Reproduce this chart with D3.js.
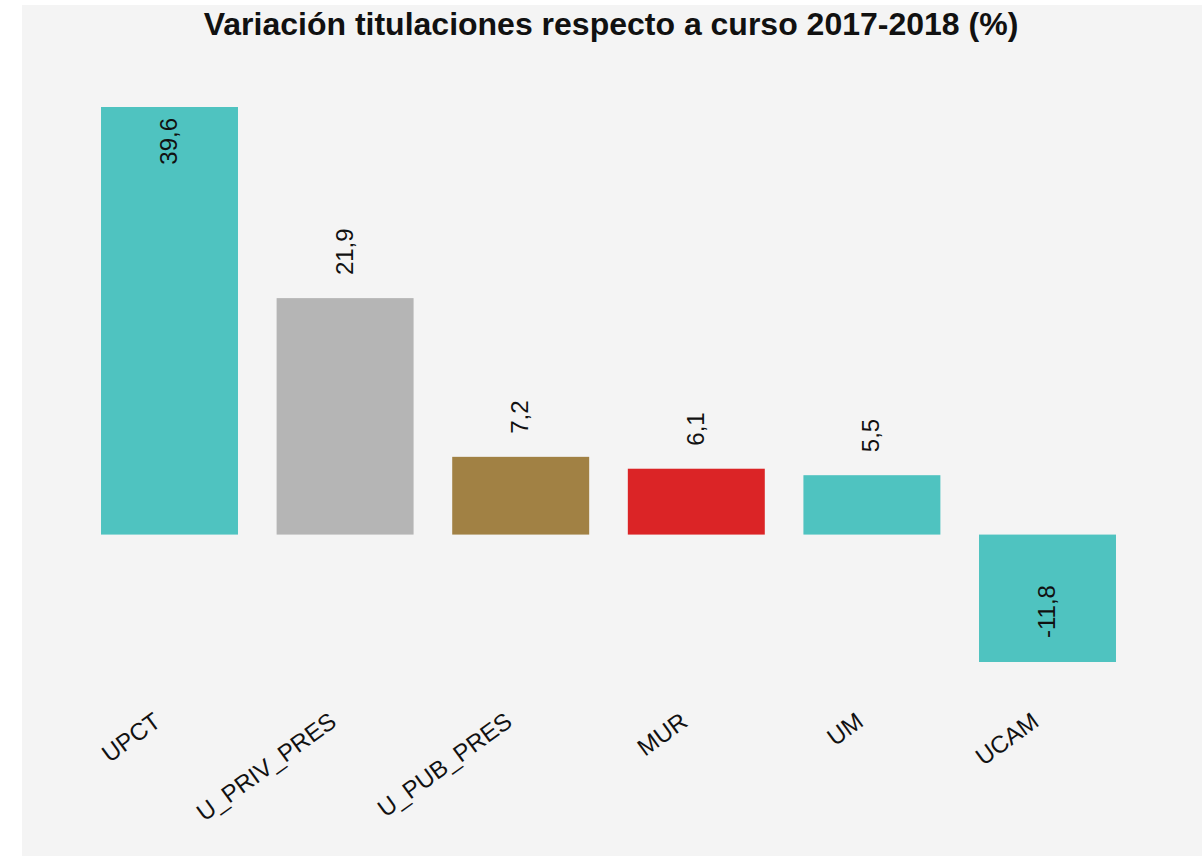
<!DOCTYPE html>
<html>
<head>
<meta charset="utf-8">
<script src="https://cdn.jsdelivr.net/npm/d3@7"></script>
<style>
  body { margin: 0; background: #fff; }
  text { font-family: "Liberation Sans", Arial, sans-serif; }
</style>
</head>
<body>
<div id="chart"></div>
<script>
const width = 1202, height = 856;

// datos
const categories = ["UPCT", "U_PRIV_PRES", "U_PUB_PRES", "MUR", "UM", "UCAM"];
const values = [39.6, 21.9, 7.2, 6.1, 5.5, -11.8];
const colors = ["#4fc3c0", "#b5b5b5", "#a18144", "#db2426", "#4fc3c0", "#4fc3c0"];

const locale = d3.formatLocale({ decimal: ",", thousands: ".", grouping: [3], currency: ["", "€"], minus: "-" });
const fmt = locale.format(".1f");

const svg = d3.select("#chart").append("svg")
    .attr("width", width)
    .attr("height", height);

// fondo gris
svg.append("rect")
    .attr("x", 22).attr("y", 5)
    .attr("width", width - 22).attr("height", height - 5)
    .attr("fill", "#f4f4f4");

svg.append("text")
    .attr("x", 611).attr("y", 35)
    .attr("text-anchor", "middle")
    .attr("font-size", 32)
    .attr("font-weight", "bold")
    .attr("fill", "#111")
    .text("Variación titulaciones respecto a curso 2017-2018 (%)");

const x = d3.scaleBand()
    .domain(categories)
    .range([81.7, 1135.3])
    .paddingInner(0.22)
    .paddingOuter(0.11);

const y = d3.scaleLinear()
    .domain([d3.min(values), d3.max(values)])
    .range([662, 107]);

const data = categories.map((c, i) => ({ cat: c, v: values[i], color: colors[i] }));
const vmax = d3.max(values);

const bars = svg.append("g");
bars.selectAll("rect")
    .data(data)
    .enter()
    .append("rect")
    .attr("x", d => x(d.cat))
    .attr("width", x.bandwidth())
    .attr("y", d => y(Math.max(0, d.v)))
    .attr("height", d => Math.abs(y(d.v) - y(0)))
    .attr("fill", d => d.color);

// etiquetas de valor (giradas)
bars.selectAll("text")
    .data(data)
    .enter()
    .append("text")
    .attr("transform", d => {
        const cx = x(d.cat) + x.bandwidth() / 2 - 1;
        let ty;
        if (d.v === vmax) ty = y(d.v) + 11;
        else if (d.v < 0) ty = y(d.v) - 24;
        else ty = y(d.v) - 23;
        return `translate(${cx},${ty}) rotate(-90)`;
    })
    .attr("text-anchor", d => d.v === vmax ? "end" : "start")
    .attr("dy", "0.35em")
    .attr("font-size", 24)
    .attr("fill", "#111")
    .text(d => fmt(d.v));

// etiquetas del eje x
svg.append("g").selectAll("text")
    .data(categories)
    .enter()
    .append("text")
    .attr("transform", d => `translate(${x(d) + x.bandwidth() / 2 - 12},${718}) rotate(-36)`)
    .attr("text-anchor", "end")
    .attr("dy", "0.35em")
    .attr("font-size", 24)
    .attr("fill", "#111")
    .text(d => d);
</script>
</body>
</html>
